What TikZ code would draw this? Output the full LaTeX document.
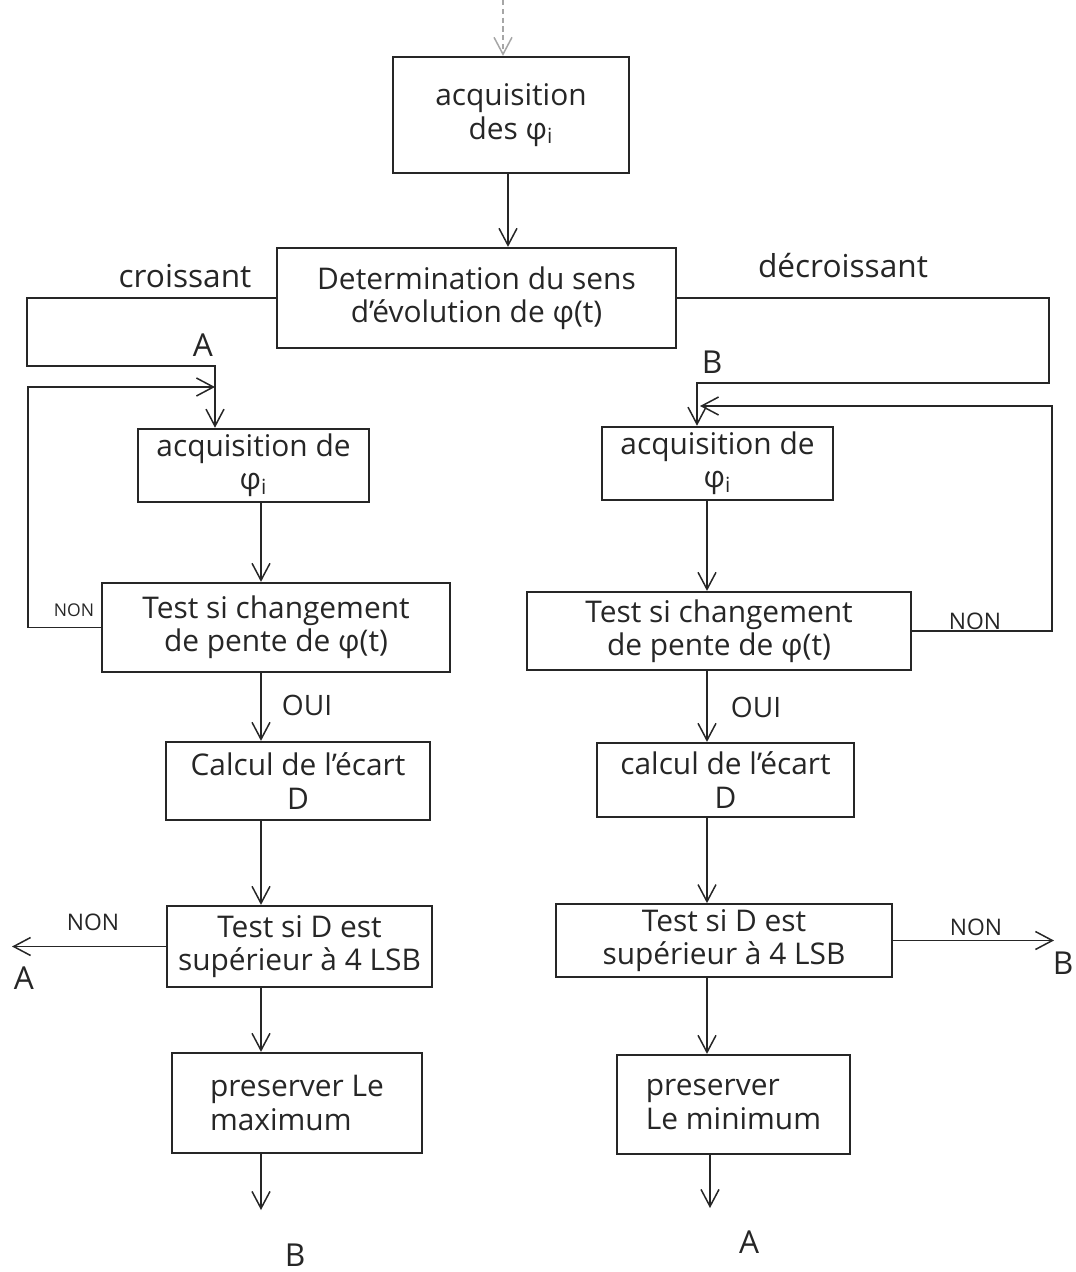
\documentclass[tikz,border=0pt]{standalone}
\usepackage{fontspec}
\setmainfont{Open Sans}
\usetikzlibrary{arrows.meta}

\begin{document}
\begin{tikzpicture}[x=0.2mm, y=-0.2mm,
    box/.style={draw=black!85, line width=0.45mm, inner sep=1mm, align=center, text=black!85, font=\fontsize{17}{19}\selectfont},
    flow/.style={draw=black!85, line width=0.3mm},
    arr/.style={flow, -{Straight Barb[length=3.4mm,width=3.6mm]}},
    lbl/.style={text=black!85, inner sep=0pt, font=\fontsize{18}{20}\selectfont},
    word/.style={lbl, font=\fontsize{13}{15}\selectfont}]
			%%%%% START %%%%%
			\useasboundingbox (0, 0) rectangle (1075, 1272);
			
			\coordinate (entry) at (503, 0);
			\coordinate (colT) at (508, 0);
			\coordinate (colL) at (261, 0);
			\coordinate (colR) at (707, 0);
			
			% boxes
			\node[box, minimum width=47.2mm, minimum height=23.2mm] (acq) at (511, 115) {acquisition\\des φ\textsubscript{i}};
			\node[box, minimum width=79.8mm, minimum height=20mm] (det) at (476.5, 298) {Determination du sens\\d'évolution de φ(t)};
			
			\node[box, minimum width=46.2mm, minimum height=14.2mm] (acqL) at (253.5, 465.5) {acquisition de\\φ\textsubscript{i}};
			\node[box, minimum width=69.6mm, minimum height=17.8mm] (testL) at (276, 627.5) {Test si changement\\de pente de φ(t)};
			\node[box, minimum width=52.8mm, minimum height=15.6mm] (calcL) at (298, 781) {Calcul de l'écart\\D};
			\node[box, minimum width=53mm, minimum height=16.2mm] (cmpL) at (299.5, 946.5) {Test si D est\\supérieur à 4 LSB};
			\node[box, align=left, minimum width=50mm, minimum height=20mm] (maxL) at (297, 1103) {preserver Le\\maximum};
			
			\node[box, minimum width=46.2mm, minimum height=14.2mm] (acqR) at (717.5, 463.5) {acquisition de\\φ\textsubscript{i}};
			\node[box, minimum width=76.8mm, minimum height=15.6mm] (testR) at (719, 631) {Test si changement\\de pente de φ(t)};
			\node[box, minimum width=51.4mm, minimum height=14.8mm] (calcR) at (725.5, 780) {calcul de l'écart\\D};
			\node[box, minimum width=67.2mm, minimum height=14.2mm] (cmpR) at (724, 940.5) {Test si D est\\supérieur à 4 LSB};
			\node[box, align=left, minimum width=46.6mm, minimum height=19.8mm] (minR) at (733.5, 1104.5) {preserver\\Le minimum};
			
			% top
			\draw[arr, densely dashed, draw=black!35] (entry) -- (entry |- acq.north);
			\draw[arr] (acq.south -| colT) -- (det.north -| colT);
			
			% croissant branch and its loop
			\coordinate (jA1) at (27, 366);
			\coordinate (jA2) at (215, 366);
			\draw[arr] (det.west) -| (jA1) -- (jA2) -- (jA2 |- acqL.north);
			\coordinate (lA1) at (28, 387);
			\coordinate (lA2) at (215, 387);
			\draw[arr] (testL.west) -| (lA1) -- (lA2);
			
			% decroissant branch and its loop
			\coordinate (jB1) at (1049, 383);
			\coordinate (jB2) at (697, 383);
			\draw[arr] (det.east) -| (jB1) -- (jB2) -- (jB2 |- acqR.north);
			\coordinate (lB1) at (1052, 406);
			\coordinate (lB2) at (700, 406);
			\draw[arr] (testR.east) -| (lB1) -- (lB2);
			
			% left column
			\draw[arr] (acqL.south -| colL) -- (testL.north -| colL);
			\draw[arr] (testL.south -| colL) -- (calcL.north -| colL);
			\draw[arr] (calcL.south -| colL) -- (cmpL.north -| colL);
			\draw[arr] (cmpL.south -| colL) -- (maxL.north -| colL);
			\coordinate (exitB) at (261, 1210);
			\draw[arr] (maxL.south -| colL) -- (exitB);
			\coordinate (exitAL) at (12, 0);
			\draw[arr] (cmpL.west) -- (cmpL.west -| exitAL);
			
			% right column
			\draw[arr] (acqR.south -| colR) -- (testR.north -| colR);
			\draw[arr] (testR.south -| colR) -- (calcR.north -| colR);
			\draw[arr] (calcR.south -| colR) -- (cmpR.north -| colR);
			\draw[arr] (cmpR.south -| colR) -- (minR.north -| colR);
			\coordinate (exitA) at (710, 1208);
			\draw[arr] (minR.south -| exitA) -- (exitA);
			\coordinate (exitBR) at (1054, 0);
			\draw[arr] (cmpR.east) -- (cmpR.east -| exitBR);
			
			% labels
			\node[lbl] (crois) at (185, 276) {croissant};
			\node[lbl] (decrois) at (843, 266) {décroissant};
			\node[lbl] (labA1) at (203, 345) {A};
			\node[lbl] (labB1) at (712, 362) {B};
			\node[word, font=\fontsize{10}{12}\selectfont] (non1) at (74, 610) {NON};
			\node[word] (non2) at (975, 621) {NON};
			\node[word, font=\fontsize{16}{18}\selectfont] (oui1) at (307, 705) {OUI};
			\node[word, font=\fontsize{16}{18}\selectfont] (oui2) at (756, 707) {OUI};
			\node[word] (non3) at (93, 922) {NON};
			\node[lbl] (labA2) at (24, 978) {A};
			\node[word] (non4) at (976, 927) {NON};
			\node[lbl] (labB2) at (1063, 963) {B};
			\node[lbl] (labB3) at (295, 1255) {B};
			\node[lbl] (labA3) at (749, 1242) {A};
			
			%%%%% END %%%%%
\end{tikzpicture}
\end{document}
